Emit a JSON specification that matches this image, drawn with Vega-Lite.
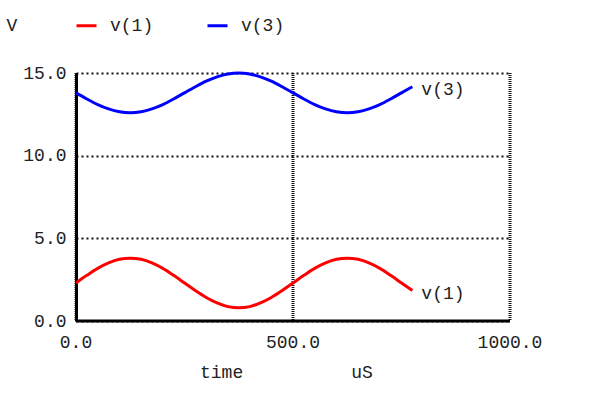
{
  "$schema": "https://vega.github.io/schema/vega-lite/v6.json",
  "width": 434,
  "height": 248,
  "autosize": "none",
  "padding": {"left": 76, "top": 73, "right": 87, "bottom": 78},
  "background": "white",
  "config": {
    "view": {"stroke": null},
    "font": "Liberation Mono",
    "text": {"font": "Liberation Mono"}
  },
  "data": {
    "values": [
      {"t": 0, "v": 2.30, "s": "v(1)"}, {"t": 25, "v": 2.76, "s": "v(1)"}, {"t": 50, "v": 3.18, "s": "v(1)"}, {"t": 75, "v": 3.51, "s": "v(1)"},
      {"t": 100, "v": 3.73, "s": "v(1)"}, {"t": 125, "v": 3.80, "s": "v(1)"}, {"t": 150, "v": 3.73, "s": "v(1)"}, {"t": 175, "v": 3.51, "s": "v(1)"},
      {"t": 200, "v": 3.18, "s": "v(1)"}, {"t": 225, "v": 2.76, "s": "v(1)"}, {"t": 250, "v": 2.30, "s": "v(1)"}, {"t": 275, "v": 1.84, "s": "v(1)"},
      {"t": 300, "v": 1.42, "s": "v(1)"}, {"t": 325, "v": 1.09, "s": "v(1)"}, {"t": 350, "v": 0.87, "s": "v(1)"}, {"t": 375, "v": 0.80, "s": "v(1)"},
      {"t": 400, "v": 0.87, "s": "v(1)"}, {"t": 425, "v": 1.09, "s": "v(1)"}, {"t": 450, "v": 1.42, "s": "v(1)"}, {"t": 475, "v": 1.84, "s": "v(1)"},
      {"t": 500, "v": 2.30, "s": "v(1)"}, {"t": 525, "v": 2.76, "s": "v(1)"}, {"t": 550, "v": 3.18, "s": "v(1)"}, {"t": 575, "v": 3.51, "s": "v(1)"},
      {"t": 600, "v": 3.73, "s": "v(1)"}, {"t": 625, "v": 3.80, "s": "v(1)"}, {"t": 650, "v": 3.73, "s": "v(1)"}, {"t": 675, "v": 3.51, "s": "v(1)"},
      {"t": 700, "v": 3.18, "s": "v(1)"}, {"t": 725, "v": 2.76, "s": "v(1)"}, {"t": 750, "v": 2.30, "s": "v(1)"}, {"t": 775, "v": 1.84, "s": "v(1)", "end": true},
      {"t": 0, "v": 13.80, "s": "v(3)"}, {"t": 25, "v": 13.43, "s": "v(3)"}, {"t": 50, "v": 13.09, "s": "v(3)"}, {"t": 75, "v": 12.83, "s": "v(3)"},
      {"t": 100, "v": 12.66, "s": "v(3)"}, {"t": 125, "v": 12.60, "s": "v(3)"}, {"t": 150, "v": 12.66, "s": "v(3)"}, {"t": 175, "v": 12.83, "s": "v(3)"},
      {"t": 200, "v": 13.09, "s": "v(3)"}, {"t": 225, "v": 13.43, "s": "v(3)"}, {"t": 250, "v": 13.80, "s": "v(3)"}, {"t": 275, "v": 14.17, "s": "v(3)"},
      {"t": 300, "v": 14.51, "s": "v(3)"}, {"t": 325, "v": 14.77, "s": "v(3)"}, {"t": 350, "v": 14.94, "s": "v(3)"}, {"t": 375, "v": 15.00, "s": "v(3)"},
      {"t": 400, "v": 14.94, "s": "v(3)"}, {"t": 425, "v": 14.77, "s": "v(3)"}, {"t": 450, "v": 14.51, "s": "v(3)"}, {"t": 475, "v": 14.17, "s": "v(3)"},
      {"t": 500, "v": 13.80, "s": "v(3)"}, {"t": 525, "v": 13.43, "s": "v(3)"}, {"t": 550, "v": 13.09, "s": "v(3)"}, {"t": 575, "v": 12.83, "s": "v(3)"},
      {"t": 600, "v": 12.66, "s": "v(3)"}, {"t": 625, "v": 12.60, "s": "v(3)"}, {"t": 650, "v": 12.66, "s": "v(3)"}, {"t": 675, "v": 12.83, "s": "v(3)"},
      {"t": 700, "v": 13.09, "s": "v(3)"}, {"t": 725, "v": 13.43, "s": "v(3)"}, {"t": 750, "v": 13.80, "s": "v(3)"}, {"t": 775, "v": 14.17, "s": "v(3)", "end": true}
    ]
  },
  "encoding": {
    "x": {
      "field": "t", "type": "quantitative",
      "scale": {"domain": [0, 1000], "nice": false, "zero": false},
      "axis": {
        "values": [0, 500, 1000], "format": ".1f", "translate": 0,
        "title": "time\u00a0\u00a0\u00a0\u00a0\u00a0\u00a0\u00a0\u00a0\u00a0\u00a0uS",
        "titleAnchor": "start", "titleAlign": "left", "titleX": 124,
        "titleFont": "Liberation Mono", "titleFontWeight": "normal", "titleFontSize": 18, "titleColor": "#222",
        "titlePadding": 12,
        "labelFont": "Liberation Mono", "labelFontSize": 18, "labelColor": "#222", "labelPadding": 13,
        "labelFlush": false,
        "domain": true, "domainColor": "black", "domainWidth": 3,
        "ticks": false,
        "grid": true, "gridColor": "#111", "gridWidth": 3, "gridDash": [1, 1]
      }
    },
    "y": {
      "field": "v", "type": "quantitative",
      "scale": {"domain": [0, 15], "nice": false},
      "axis": {
        "values": [0, 5, 10, 15], "format": ".1f",
        "title": "V", "titleAngle": 0, "titleX": -70, "titleY": -48, "titleAlign": "left", "titleBaseline": "middle",
        "titleFont": "Liberation Mono", "titleFontWeight": "normal", "titleFontSize": 18, "titleColor": "#222",
        "labelFont": "Liberation Mono", "labelFontSize": 18, "labelColor": "#222", "labelPadding": 10,
        "domain": true, "domainColor": "black", "domainWidth": 3,
        "ticks": false,
        "grid": true, "gridColor": "#111", "gridWidth": 2, "gridDash": [2, 3]
      }
    },
    "color": {
      "field": "s", "type": "nominal",
      "scale": {"domain": ["v(1)", "v(3)"], "range": ["#ff0000", "#0000ff"]},
      "legend": {
        "title": null, "orient": "none", "direction": "horizontal",
        "legendX": -1, "legendY": -59, "padding": 0,
        "symbolType": "stroke", "symbolSize": 400, "symbolStrokeWidth": 3,
        "labelFont": "Liberation Mono", "labelFontSize": 18, "labelColor": "#222", "labelOffset": 12,
        "columnPadding": 47
      }
    }
  },
  "layer": [
    {"mark": {"type": "line", "strokeWidth": 3, "interpolate": "monotone"}},
    {
      "transform": [{"filter": "datum.end"}],
      "mark": {"type": "text", "align": "left", "baseline": "middle", "dx": 9, "dy": 3, "fontSize": 18, "font": "Liberation Mono"},
      "encoding": {"text": {"field": "s"}, "color": {"value": "#222"}}
    }
  ]
}
